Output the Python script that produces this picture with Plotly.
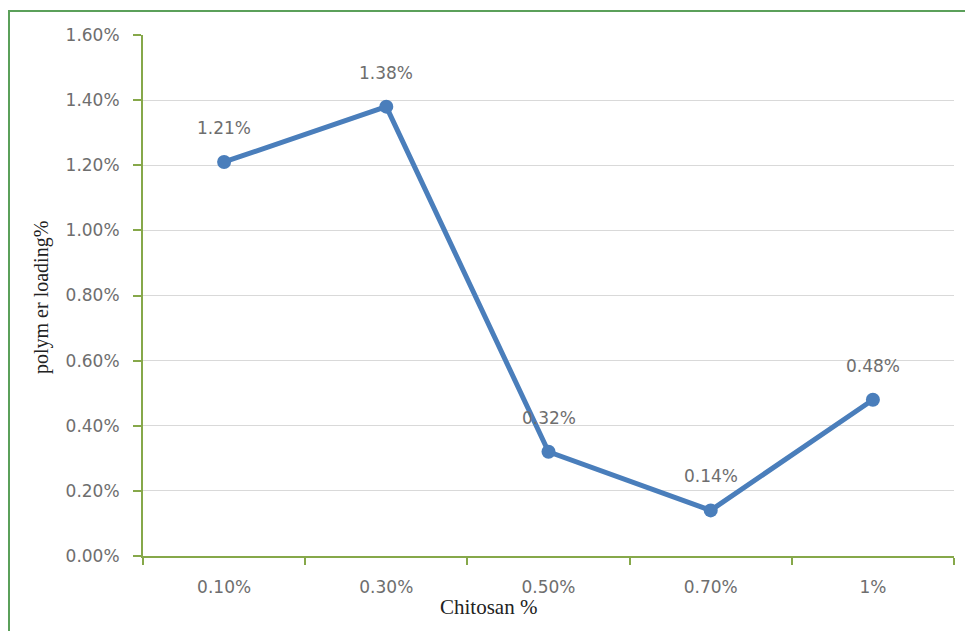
import plotly.graph_objects as go

categories = ["0.10%", "0.30%", "0.50%", "0.70%", "1%"]
loading_pct = [1.21, 1.38, 0.32, 0.14, 0.48]
label_text = ["1.21%", "1.38%", "0.32%", "0.14%", "0.48%"]
y_ticks = [0.0, 0.2, 0.4, 0.6, 0.8, 1.0, 1.2, 1.4, 1.6]

yvals = [v / 100 for v in loading_pct]

AXIS = "#86A84A"
TXT = "#6E6E6E"
FONT = "DejaVu Sans"

fig = go.Figure()
fig.add_trace(go.Scatter(
    x=categories, y=yvals, mode="lines+markers",
    line=dict(color="#4A7EBB", width=5),
    marker=dict(color="#4A7EBB", size=14),
    showlegend=False, hoverinfo="skip",
))

for c, v, t in zip(categories, yvals, label_text):
    fig.add_annotation(x=c, y=v, text=t, showarrow=False, yshift=34,
                       font=dict(family=FONT, size=17, color=TXT))

fig.add_annotation(xref="paper", yref="paper", x=(488 - 143) / 811, y=(556 - 607) / 521,
                   yanchor="middle", xanchor="center",
                   text="Chitosan %", showarrow=False,
                   font=dict(family="Liberation Serif", size=21, color="#222222"))
fig.add_annotation(xref="paper", yref="paper", x=(41 - 143) / 811, y=(556 - 298) / 521,
                   yanchor="middle", xanchor="center",
                   text="polym er loading%", showarrow=False, textangle=-90,
                   font=dict(family="Liberation Serif", size=20, color="#222222"))

fig.add_shape(type="rect", xref="paper", yref="paper",
              x0=(9 - 143) / 811, x1=(990 - 143) / 811,
              y0=(556 - 660) / 521, y1=(556 - 11) / 521,
              line=dict(color="#5BA05A", width=2), fillcolor="rgba(0,0,0,0)", layer="below")

fig.update_layout(
    width=965, height=631,
    margin=dict(l=143, r=11, t=35, b=75),
    paper_bgcolor="white", plot_bgcolor="white",
    xaxis=dict(
        type="category", range=[-0.5, 4.5],
        showline=True, linecolor=AXIS, linewidth=2,
        ticks="outside", tickson="boundaries", ticklen=7, tickcolor=AXIS, tickwidth=2,
        showgrid=False, zeroline=False, ticklabelstandoff=15,
        tickfont=dict(family=FONT, size=17, color=TXT),
    ),
    yaxis=dict(
        range=[0, 0.016], tickvals=[t / 100 for t in y_ticks], tickformat=".2%",
        showline=True, linecolor=AXIS, linewidth=2,
        ticks="outside", ticklen=8, tickcolor=AXIS, tickwidth=2,
        showgrid=True, gridcolor="#D9D9D9", gridwidth=1, zeroline=False,
        ticklabelstandoff=10,
        tickfont=dict(family=FONT, size=17, color=TXT),
    ),
)

fig.write_html("out.html")
